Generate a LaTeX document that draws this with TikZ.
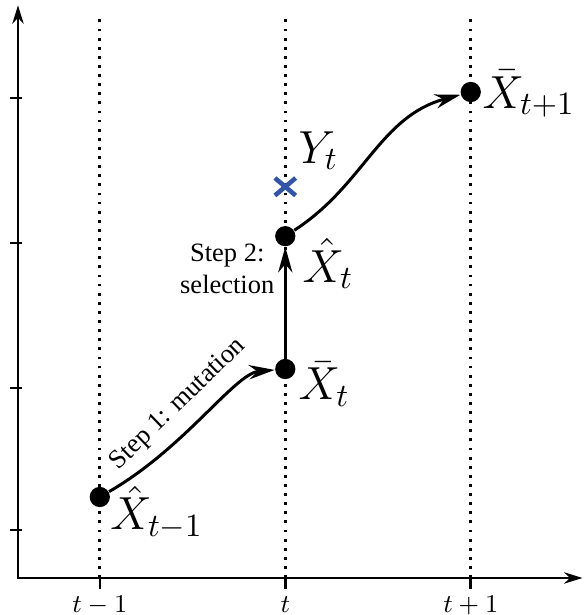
\documentclass[tikz,border=0pt]{standalone}
\usepackage{fix-cm}
\usepackage[no-math]{fontspec}
\setmainfont{Liberation Serif}
\usetikzlibrary{arrows.meta,shapes.misc}
\definecolor{markblue}{RGB}{50,85,170}

\begin{document}
\begin{tikzpicture}[>={Stealth[length=9pt,width=5pt]},
  state/.style={circle, fill, inner sep=0pt, minimum size=0.25cm},
  lab/.style={anchor=base west, inner sep=0pt, font=\fontsize{16.3}{19}\selectfont},
  tick/.style={line width=0.9pt},
  guide/.style={line width=1pt, dash pattern=on 1pt off 2.2pt},
  move/.style={->, line width=1.05pt},
  note/.style={font=\fontsize{9.3}{11.3}\selectfont}]
\useasboundingbox (-0.222,-0.457) rectangle (6.988,7.136);

% axes
\coordinate (o) at (0,0);
\coordinate (ytop) at (0,7.07);
\coordinate (xend) at (6.97,0);
\draw[line width=0.9pt, {Stealth[length=6.5pt,width=4pt]}-{Stealth[length=6.5pt,width=4pt]}] (ytop) -- (o) -- (xend);

\foreach \y in {0.593,2.346,4.136,5.926}
  \draw[tick] (-0.1,\y) -- (0.05,\y);
\foreach \x/\t/\n in {1.01/t-1/a,3.3/t/b,5.59/t+1/c} {
  \draw[guide] (\x,0) -- (\x,6.97);
  \draw[tick] (\x,0.025) -- (\x,-0.136);
  \node[anchor=base, font=\small] (time\n) at (\x,-0.43) {$\t$};
}

% states
\node[state] (p0) at (1.01,1) {};
\node[state] (p1) at (3.3,2.58) {};
\node[state] (p2) at (3.3,4.22) {};
\node[state] (p3) at (5.59,6) {};
\node[cross out, draw=markblue, line width=1.6pt, minimum width=0.2cm, minimum height=0.16cm, inner sep=0pt] (obs) at (3.3,4.83) {};

\node[lab] (l0) at (1.135,0.593) {$\hat{X}_{t-1}$};
\node[lab] (l1) at (3.457,2.198) {$\bar{X}_t$};
\node[lab] (l2) at (3.506,3.654) {$\hat{X}_t$};
\node[lab] (l3) at (5.728,5.802) {$\bar{X}_{t+1}$};
\node[lab] (ly) at (3.457,5.123) {$Y_t$};

% steps
\draw[move] (p0) to[out=30, in=185, out looseness=1.1, in looseness=0.5] (p1);
\draw[move] (p1) -- node[note, align=center, left, pos=0.8] (s2) {Step 2:\\selection} (p2);
\draw[move] (p2) to[out=33, in=195] (p3);
\node[note, rotate=44, anchor=base] (s1) at (2.03,2.09) {Step 1: mutation};
\end{tikzpicture}
\end{document}
